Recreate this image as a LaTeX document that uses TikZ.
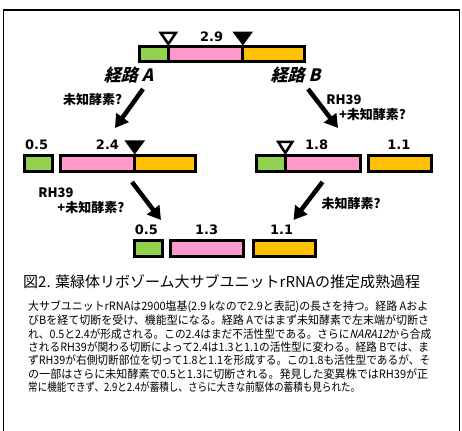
\documentclass[tikz,border=0pt]{standalone}
\usepackage{fontspec}
\usepackage{graphicx}
\setmainfont{Noto Sans CJK JP}
\newfontfamily\cjksl[FakeSlant=0.25]{Noto Sans CJK JP}
\newfontfamily\numfont{DejaVu Sans}
\usetikzlibrary{arrows.meta}
\definecolor{cgreen}{HTML}{92D050}
\definecolor{cpink}{HTML}{FF99CC}
\definecolor{corange}{HTML}{FFC000}
\newcommand{\fitline}[2]{\resizebox{#1}{\height}{#2}}
\tikzset{
  segline/.style={line width=3pt, draw=black},
  num/.style={inner sep=0pt, font=\numfont\bfseries\fontsize{13}{14}\selectfont},
  lab/.style={inner sep=0pt, font=\bfseries\fontsize{13}{14}\selectfont},
  route/.style={inner sep=0pt, font=\cjksl\bfseries\fontsize{17}{18}\selectfont},
  bigarrow/.style={line width=4.5pt, -{Triangle[width=15pt,length=13pt]}},
  opentri/.style={line width=2.5pt, draw=black, fill=white, line join=miter},
  filltri/.style={fill=black},
  body/.style={inner sep=0pt, anchor=west, font=\fontsize{11.5}{13}\selectfont},
}
\begin{document}
\begin{tikzpicture}[x=1pt, y=-1pt]
\useasboundingbox (0,0) rectangle (462,430);
\fill[white] (0,0) rectangle (462,430);
% frame
\draw[line width=1.3pt] (3.5,431) -- (3.5,10) -- (459.5,10) -- (459.5,431);

% ---------- top bar ----------
\fill[cgreen] (139.8,46.5) rectangle (168.3,61.5);
\fill[cpink] (168.3,46.5) rectangle (242.8,61.5);
\fill[corange] (242.8,46.5) rectangle (304.5,61.5);
\draw[segline] (139.8,46.5) rectangle (304.5,61.5);
\draw[segline] (168.3,46.5) -- (168.3,61.5);
\draw[segline] (242.8,46.5) -- (242.8,61.5);
\draw[opentri] (168.3,44) -- (160.8,33) -- (175.8,33) -- cycle;
\fill[filltri] (242.8,45.5) -- (232.5,31.7) -- (253,31.7) -- cycle;
\node[num] (t29) at (211.7,37) {2.9};

\node[route] (ra) at (128.5,75.5) {経路 A};
\node[route] (rb) at (295.5,75.5) {経路 B};

% arrows row 1
\coordinate (a1s) at (143,89);
\coordinate (a1e) at (115,128);
\coordinate (b1s) at (308,89);
\coordinate (b1e) at (338,128);
\draw[bigarrow] (a1s) -- (a1e);
\draw[bigarrow] (b1s) -- (b1e);
\node[lab] (la1) at (92.5,99.5) {未知酵素?};
\node[lab] (lb1) at (344,99.5) {RH39};
\node[lab] (lb2) at (372.5,115) {+未知酵素?};

% ---------- row 2 left ----------
\fill[cgreen] (24.2,155.5) rectangle (52.5,171.5);
\draw[segline] (24.2,155.5) rectangle (52.5,171.5);
\fill[cpink] (60.8,155.5) rectangle (134.7,171.5);
\fill[corange] (134.7,155.5) rectangle (195.2,171.5);
\draw[segline] (60.8,155.5) rectangle (195.2,171.5);
\draw[segline] (134.7,155.5) -- (134.7,171.5);
\fill[filltri] (134.7,154.5) -- (124.5,140.5) -- (145,140.5) -- cycle;
\node[num] (l05) at (36.7,145) {0.5};
\node[num] (l24) at (107.5,145) {2.4};

% ---------- row 2 right ----------
\fill[cgreen] (256.5,155.5) rectangle (285.3,171.5);
\fill[cpink] (285.3,155.5) rectangle (360.2,171.5);
\draw[segline] (256.5,155.5) rectangle (360.2,171.5);
\draw[segline] (285.3,155.5) -- (285.3,171.5);
\draw[opentri] (285.3,153) -- (278.3,142) -- (292.3,142) -- cycle;
\fill[corange] (368.2,155.5) rectangle (431.2,171.5);
\draw[segline] (368.2,155.5) rectangle (431.2,171.5);
\node[num] (r18) at (316.7,145) {1.8};
\node[num] (r11) at (398.8,145) {1.1};

% arrows row 2
\coordinate (a2s) at (132,182);
\coordinate (a2e) at (161,220);
\coordinate (b2s) at (322.5,182);
\coordinate (b2e) at (293.5,220);
\draw[bigarrow] (a2s) -- (a2e);
\draw[bigarrow] (b2s) -- (b2e);
\node[lab] (la2) at (56,192.5) {RH39};
\node[lab] (la3) at (90.8,207.5) {+未知酵素?};
\node[lab] (lb3) at (351,204) {未知酵素?};

% ---------- row 3 ----------
\fill[cgreen] (134.2,240.5) rectangle (162.5,256.5);
\draw[segline] (134.2,240.5) rectangle (162.5,256.5);
\fill[cpink] (170.8,240.5) rectangle (243.5,256.5);
\draw[segline] (170.8,240.5) rectangle (243.5,256.5);
\fill[corange] (253.2,240.5) rectangle (315.8,256.5);
\draw[segline] (253.2,240.5) rectangle (315.8,256.5);
\node[num] (f05) at (146.3,230) {0.5};
\node[num] (f13) at (206.7,230) {1.3};
\node[num] (f11) at (281.7,230) {1.1};

% ---------- caption ----------
\node[inner sep=0pt, anchor=west, font=\fontsize{15}{18}\selectfont] (cap) at (23,282) {図2. 葉緑体リボゾーム大サブユニットrRNAの推定成熟過程};

% ---------- body ----------
\node[body] (t1) at (28,307) {\fitline{400pt}{大サブユニットrRNAは2900塩基(2.9 kなので2.9と表記)の長さを持つ。経路 Aおよ}};
\node[body] (t2) at (28,320.4) {\fitline{401pt}{びBを経て切断を受け、機能型になる。経路 Aではまず未知酵素で左末端が切断さ}};
\node[body] (t3) at (28,333.8) {\fitline{403pt}{れ、0.5と2.4が形成される。この2.4はまだ不活性型である。さらに{\cjksl NARA12}から合成}};
\node[body] (t4) at (28,347.2) {\fitline{401pt}{されるRH39が関わる切断によって2.4は1.3と1.1の活性型に変わる。経路 Bでは、ま}};
\node[body] (t5) at (28,360.6) {\fitline{402pt}{ずRH39が右側切断部位を切って1.8と1.1を形成する。この1.8も活性型であるが、そ}};
\node[body] (t6) at (28,374) {\fitline{400pt}{の一部はさらに未知酵素で0.5と1.3に切断される。発見した変異株ではRH39が正}};
\node[body] (t7) at (28,387.4) {\fitline{332pt}{常に機能できず、2.9と2.4が蓄積し、さらに大きな前駆体の蓄積も見られた。}};
\end{tikzpicture}
\end{document}
